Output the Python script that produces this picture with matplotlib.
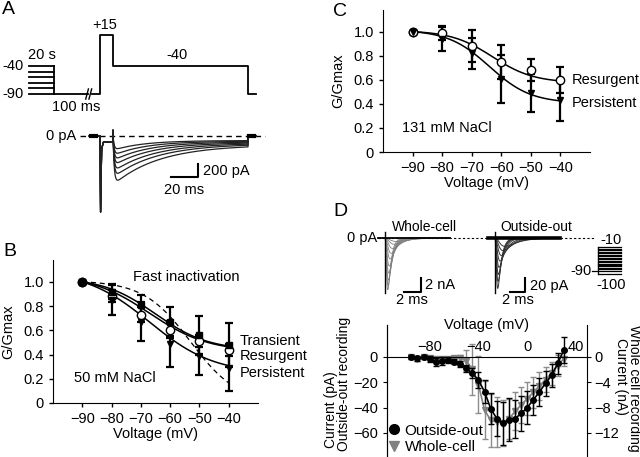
import numpy as np
import matplotlib
matplotlib.use("Agg")
import matplotlib.pyplot as plt
from matplotlib.lines import Line2D

plt.rcParams['font.family'] = ['Liberation Sans', 'DejaVu Sans']
plt.rcParams['font.size'] = 10.5

W, H = 640, 457


def rect(x0, y0, x1, y1):
    # pixel box (origin top-left) -> figure fraction rect
    return [x0 / W, 1 - y1 / H, (x1 - x0) / W, (y1 - y0) / H]


def fp(x, y):
    return x / W, 1 - y / H


# ---------------- data ----------------
volts = [-90, -80, -70, -60, -50, -40]

# panel B, 50 mM NaCl
b_transient = [1.0, 0.92, 0.81, 0.67, 0.56, 0.48]
b_transient_err = [0, 0.06, 0.08, 0.12, 0.16, 0.18]
b_resurgent = [1.0, 0.88, 0.73, 0.60, 0.51, 0.44]
b_resurgent_err = [0, 0.05, 0.06, 0.06, 0.05, 0.05]
b_persistent = [1.0, 0.85, 0.67, 0.49, 0.39, 0.29]
b_persistent_err = [0, 0.12, 0.16, 0.19, 0.16, 0.19]
# Boltzmann fit parameters: (min, V1/2, slope)
b_fit_transient = (0.42, -65, 9)
b_fit_resurgent = (0.40, -67, 10)
b_fit_persistent = (0.22, -67, 11)
b_fit_fast_inact = (0.0, -53, 8)

# panel C, 131 mM NaCl
c_resurgent = [1.0, 0.99, 0.88, 0.75, 0.68, 0.60]
c_resurgent_err = [0, 0.06, 0.13, 0.14, 0.09, 0.11]
c_persistent = [1.0, 0.94, 0.82, 0.61, 0.49, 0.43]
c_persistent_err = [0, 0.10, 0.13, 0.20, 0.16, 0.17]
c_fit_resurgent = (0.57, -63, 7)
c_fit_persistent = (0.40, -64, 7)

# panel D, I-V
iv_volts = [-95, -90, -85, -80, -75, -70, -65, -60, -55, -50, -45, -40, -35,
            -30, -25, -20, -15, -10, -5, 0, 5, 10, 15, 20, 25, 30]
iv_outside_out = [0, -1.3, -0.5, -1.8, -4, -3.4, -2.6, -4, -5.8, -9.2, -13, -18.4, -27.6,
                  -40.8, -48.7, -52.6, -49.5, -48.7, -44.7, -40, -34, -27.6, -21, -14.5, -5.3, 5.3]
iv_outside_out_err = [1.5, 2, 1.5, 2, 3, 3, 2, 2, 2.5, 3, 4, 6, 9,
                      12, 14, 17, 17, 15, 14, 13, 12, 11, 10, 9, 8, 10]
iv_whole_cell = [0, -0.3, -0.1, -0.2, -0.4, -0.4, -0.3, -0.2, -0.2, -0.6, -2.0, -4.4, -8.4,
                 -10.0, -10.3, -10.4, -9.8, -8.6, -7.6, -6.6, -5.6, -4.6, -3.6, -2.6, -1.4, -0.3]
iv_whole_cell_err = [0.3, 0.3, 0.3, 0.3, 0.3, 0.3, 0.3, 0.3, 0.5, 1.6, 4.0, 4.5, 4.5,
                     4.2, 4.0, 3.6, 3.2, 3.0, 2.8, 2.6, 2.4, 2.2, 2.0, 1.8, 1.6, 1.2]

# panel A, voltage protocol (ms, mV)
a_prepulse_levels = [-40, -50, -60, -70, -80, -90]
a_prepulse_t = (-52.6, -34.0)
a_protocol_t = [-6.0, 0.0, 0.0, 9.6, 9.6, 109.6, 109.6, 115.6]
a_protocol_v = [-90, -90, 15, 15, -40, -40, -90, -90]
# panel A, resurgent current families (pA, ms)
a_res_amp = [150, 220, 290, 360, 440, 520, 620]
a_res_ss = [70, 80, 90, 100, 110, 120, 135]
a_res_tau = [22, 24, 26, 28, 30, 32, 34]
a_spike_t = [-8.0, 0.0, 0.4, 1.2, 2.5, 9.6, 9.6]
a_spike_i = [0, 0, -1170, -200, -95, -90, 90]

# panel D traces
wc_peaks = [-7.4, -6.8, -6.0, -5.0, -4.0, -3.0, -2.2, -1.5, -0.9, -0.5]   # nA
wc_tpk = [0.45, 0.5, 0.55, 0.6, 0.7, 0.85, 1.0, 1.2, 1.5, 1.8]
wc_tdecay = [0.35, 0.4, 0.45, 0.5, 0.55, 0.65, 0.8, 1.0, 1.2, 1.5]
oo_peaks = [-72, -62, -52, -42, -33, -25, -18, -12]   # pA
oo_tpk = [0.4, 0.45, 0.5, 0.6, 0.7, 0.9, 1.1, 1.4]
oo_tdecay = [0.4, 0.45, 0.5, 0.6, 0.8, 1.0, 1.3, 1.6]
d_step_levels = [-10, -15, -20, -25, -30, -35, -40, -45, -50, -55, -60, -65,
                 -70, -75, -80, -85, -90, -100]


def boltz(v, p):
    m, vh, k = p
    f = m + (1 - m) / (1 + np.exp((v - vh) / k))
    f0 = m + (1 - m) / (1 + np.exp((-90 - vh) / k))
    return f / f0


def ina(t, peak, tpk, td):
    tt = np.clip(t, 0, None)
    s = (1 - np.exp(-tt / (tpk / 2.5))) ** 3 * np.exp(-tt / td)
    return peak * s / s.max()


fig = plt.figure(figsize=(6.4, 4.57), dpi=100)

# ================= panel A =================
axp = fig.add_axes(rect(0, 20, 270, 100))
axp.set_xlim(-74.1, 125.9)
axp.set_ylim(-100.7, 42)
axp.axis('off')
for lv in a_prepulse_levels:
    axp.plot(a_prepulse_t, [lv, lv], color='k', lw=1.3)
axp.plot([a_prepulse_t[1]] * 2, [-40, -90], color='k', lw=1.3)
axp.plot([a_prepulse_t[1], -8.9], [-90, -90], color='k', lw=1.3)
axp.plot(a_protocol_t, a_protocol_v, color='k', lw=1.3)
for tb in (-9.6, -7.2):
    axp.plot([tb - 1.0, tb + 1.0], [-99, -81], color='k', lw=1)
axp.text(-43, -20, '20 s', ha='center', va='center')
axp.text(-64.5, -40, '-40', ha='center', va='center')
axp.text(-64.5, -90, '-90', ha='center', va='center')
axp.text(-17.8, -113, '100 ms', ha='center', va='center', clip_on=False)
axp.text(3.7, 33, '+15', ha='center', va='center')
axp.text(57, -20, '-40', ha='center', va='center')

axa = fig.add_axes(rect(0, 120, 270, 220))
axa.set_xlim(-74.1, 125.9)
axa.set_ylim(-1292, 246)
axa.axis('off')
axa.plot([-14.8, 122], [0, 0], color='k', lw=1, ls=(0, (4, 3)))
t_res = np.linspace(9.7, 109.6, 400)
for amp, ss, tau in zip(a_res_amp, a_res_ss, a_res_tau):
    i_res = -(ss + amp * np.exp(-(t_res - 9.6) / tau)) * (1 - np.exp(-(t_res - 9.6) / 0.9))
    t_all = np.concatenate([a_spike_t, t_res, [109.6, 109.6, 115.6]])
    i_all = np.concatenate([a_spike_i, i_res, [i_res[-1], 0, 0]])
    axa.plot(t_all, i_all, color='#222222', lw=0.9)
axa.plot([-7, -3], [0, 0], color='k', lw=3)
axa.plot([110, 114], [0, 0], color='k', lw=3)
axa.plot([52.6, 72.6, 72.6], [-631, -631, -431], color='k', lw=1.5)
axa.text(76, -531, '200 pA', ha='left', va='center')
axa.text(62.6, -831, '20 ms', ha='center', va='center')
axa.text(-17.5, 0, '0 pA', ha='right', va='center')

fig.text(*fp(2, 10), 'A', fontsize=14, va='center')

# ================= panel B =================
axb = fig.add_axes(rect(53, 260, 258, 403))
vv = np.linspace(-90, -40, 200)
axb.plot(vv, boltz(vv, b_fit_fast_inact), color='k', lw=0.9, ls=(0, (4, 3)))
for p in (b_fit_transient, b_fit_resurgent, b_fit_persistent):
    axb.plot(vv, boltz(vv, p), color='k', lw=1.1)
ekw = dict(color='k', ecolor='k', elinewidth=1.6, capsize=3, capthick=1.6, ls='none')
axb.errorbar(volts, b_resurgent, yerr=b_resurgent_err, marker='o', ms=6, mfc='white', **ekw)
axb.errorbar(volts, b_persistent, yerr=b_persistent_err, marker='v', ms=5, mfc='k', **ekw)
axb.errorbar(volts, b_transient, yerr=b_transient_err, marker='s', ms=5, mfc='k', **ekw)
axb.plot(volts[:1], b_transient[:1], 'o', color='k', ms=6)
axb.set_xlim(-100, -30)
axb.set_ylim(0, 1.18)

# ================= panel C =================
axc = fig.add_axes(rect(383, 10, 590, 152))
for p in (c_fit_resurgent, c_fit_persistent):
    axc.plot(vv, boltz(vv, p), color='k', lw=1.1)
axc.errorbar(volts, c_resurgent, yerr=c_resurgent_err, marker='o', ms=6, mfc='white', **ekw)
axc.errorbar(volts, c_persistent, yerr=c_persistent_err, marker='v', ms=5, mfc='k', **ekw)
axc.plot(volts[:1], c_persistent[:1], 'o', color='k', ms=6)
axc.set_xlim(-100, -30)
axc.set_ylim(0, 1.18)

for ax in (axb, axc):
    for s in ('top', 'right'):
        ax.spines[s].set_visible(False)
    ax.set_xticks(volts)
    ax.set_yticks([0, 0.2, 0.4, 0.6, 0.8, 1.0])
    ax.set_yticklabels(['0', '0.2', '0.4', '0.6', '0.8', '1.0'])
    ax.tick_params(length=3, width=1)
    ax.set_xlabel('Voltage (mV)', labelpad=1)
    ax.set_ylabel('G/Gmax', labelpad=6)

axb.text(-54.6, 1.04, 'Fast inactivation', ha='center', va='center')
axb.text(-36.3, 0.51, 'Transient', ha='left', va='center', clip_on=False)
axb.text(-36.3, 0.39, 'Resurgent', ha='left', va='center', clip_on=False)
axb.text(-36.3, 0.25, 'Persistent', ha='left', va='center', clip_on=False)
axb.text(-92.7, 0.21, '50 mM NaCl', ha='left', va='center')
axc.text(-36.3, 0.60, 'Resurgent', ha='left', va='center', clip_on=False)
axc.text(-36.3, 0.41, 'Persistent', ha='left', va='center', clip_on=False)
axc.text(-93.7, 0.20, '131 mM NaCl', ha='left', va='center')

fig.text(*fp(3, 252), 'B', fontsize=14, va='center')
fig.text(*fp(333, 12), 'C', fontsize=14, va='center')
fig.text(*fp(333, 212), 'D', fontsize=14, va='center')

# ================= panel D traces =================
axw = fig.add_axes(rect(340, 230, 640, 300))
axw.set_xlim(-5.625, 31.875)
axw.set_ylim(-8.86, 1.14)
axw.axis('off')
axw.plot([-0.9, 26.25], [0, 0], color='k', lw=0.8, ls=(0, (2, 2)), clip_on=False)
t_wc = np.linspace(0, 8.1, 400)
for pk, tp, td in zip(wc_peaks, wc_tpk, wc_tdecay):
    axw.plot(t_wc, ina(t_wc, pk, tp, td), color='#808080', lw=0.6)
axw.plot([-0.9, 8.1], [0, 0], color='k', lw=1.3)
axw.plot([0, 0], [0.86, -7.9], color='k', lw=1)
axw.plot([2.375, 4.45, 4.45], [-7.7, -7.7, -5.7], color='k', lw=1.5)
axw.text(5.0, -6.7, '2 nA', ha='left', va='center')
axw.text(3.4, -8.9, '2 ms', ha='center', va='center', clip_on=False)
axw.text(-1.0, 0, '0 pA', ha='right', va='center')
axw.text(4.9, 1.6, 'Whole-cell', ha='center', va='center', fontsize=10, clip_on=False)

axo = fig.add_axes(rect(340, 230, 640, 300))
axo.set_xlim(-5.625 - 13.75, 31.875 - 13.75)
axo.set_ylim(-88.6, 11.4)
axo.axis('off')
t_oo = np.linspace(0, 8.1, 400)
for pk, tp, td in zip(oo_peaks, oo_tpk, oo_tdecay):
    axo.plot(t_oo, ina(t_oo, pk, tp, td), color='#333333', lw=0.7)
axo.plot([-0.9, 8.1], [0, 0], color='k', lw=2.6)
axo.plot([0, 0], [8.6, -78], color='k', lw=1)
axo.plot([1.9, 3.75, 3.75], [-77, -77, -57], color='k', lw=1.5)
axo.text(4.4, -68, '20 pA', ha='left', va='center')
axo.text(2.9, -88.6, '2 ms', ha='center', va='center', clip_on=False)
axo.text(5.2, 16, 'Outside-out', ha='center', va='center', fontsize=10, clip_on=False)

axs = fig.add_axes(rect(560, 230, 640, 300))
axs.set_xlim(-8.26, 9.13)
axs.set_ylim(-186.7, 46.7)
axs.axis('off')
for lv in d_step_levels:
    axs.plot([0, 5], [lv, lv], color='k', lw=0.9)
axs.plot([0, 0], [-100, -10], color='k', lw=0.9)
axs.plot([-1.3, 0], [-90, -90], color='k', lw=0.9)
axs.text(2.8, 13, '-10', ha='center', va='center')
axs.text(-1.3, -90, '-90', ha='right', va='center')
axs.text(2.8, -136, '-100', ha='center', va='center')

# ================= panel D I-V =================
axi = fig.add_axes(rect(387, 325, 587, 457))
axr = axi.twinx()
axi.set_zorder(axr.get_zorder() + 1)
axi.patch.set_visible(False)

axr.errorbar(iv_volts, iv_whole_cell, yerr=iv_whole_cell_err, color='#808080', ecolor='#8c8c8c',
             marker='v', ms=5, lw=1.2, elinewidth=1, capsize=2)
axi.errorbar(iv_volts, iv_outside_out, yerr=iv_outside_out_err, color='k', ecolor='k',
             marker='o', ms=4, lw=1.2, elinewidth=1, capsize=2)

axi.set_xlim(-115, 49)
axi.set_ylim(-79, 25)
axr.set_ylim(-79 / 5, 25 / 5)
axi.set_yticks([0, -20, -40, -60])
axr.set_yticks([0, -4, -8, -12])
axi.set_xticks([-80, -40, 0, 40])
axi.spines['bottom'].set_visible(False)
axr.spines['bottom'].set_visible(False)
axr.spines['top'].set_visible(False)
axi.spines['right'].set_visible(False)
axi.spines['top'].set_position(('data', 0))
axi.xaxis.set_ticks_position('top')
axi.xaxis.set_label_position('top')
axi.tick_params(axis='x', length=0, pad=2)
axi.tick_params(axis='y', length=3)
axr.tick_params(axis='y', length=3, pad=2)
axi.text(0.5, 1.0, 'Voltage (mV)', transform=axi.transAxes, ha='center', va='center')

leg_handles = [Line2D([], [], ls='none', marker='o', ms=7, color='k'),
               Line2D([], [], ls='none', marker='v', ms=7, color='#808080')]
axi.legend(leg_handles, ['Outside-out', 'Whole-cell'], loc='lower left',
           bbox_to_anchor=(-0.035, -0.035), frameon=False, handlelength=0.8,
           handletextpad=0.3, borderpad=0, labelspacing=0.15, fontsize=11)

fig.text(*fp(331, 410), 'Current (pA)', rotation=90, ha='center', va='center', fontsize=10)
fig.text(*fp(344, 384), 'Outside-out recording', rotation=90, ha='center', va='center', fontsize=10)
fig.text(*fp(621, 376), 'Current (nA)', rotation=270, ha='center', va='center', fontsize=10)
fig.text(*fp(634, 388), 'Whole cell recording', rotation=270, ha='center', va='center', fontsize=10)

fig.savefig('out.png', dpi=100)
